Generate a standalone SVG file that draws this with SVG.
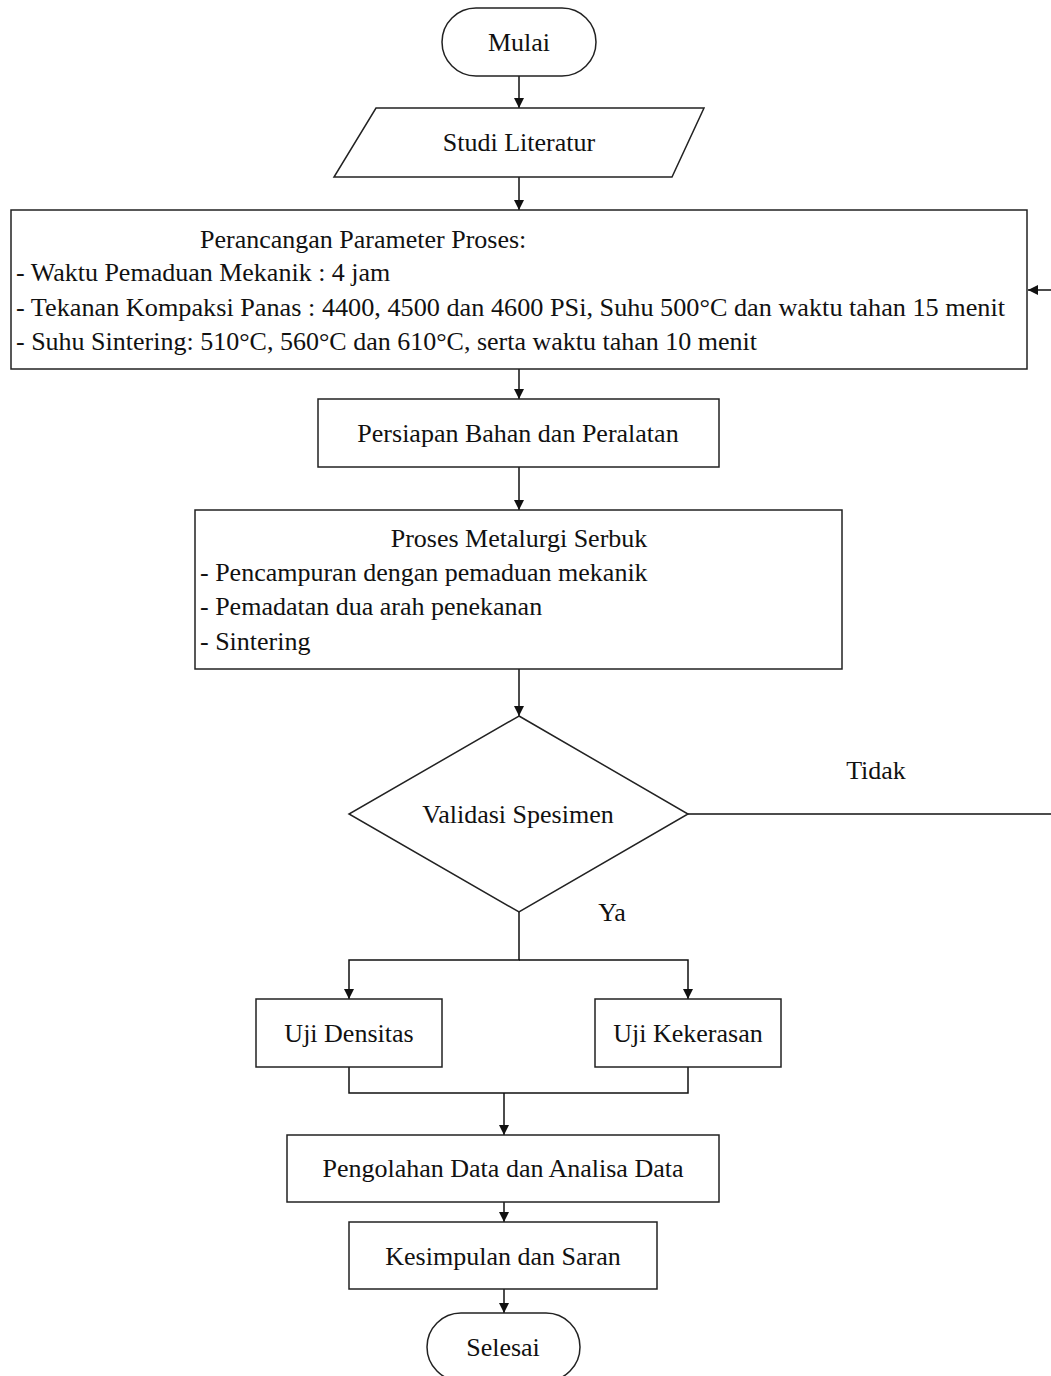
<svg xmlns="http://www.w3.org/2000/svg" width="1051" height="1376" viewBox="0 0 1051 1376">
<style>
.s{fill:#fff;stroke:#222;stroke-width:1.5}
.c{fill:none;stroke:#111;stroke-width:1.5}
text{font-family:"Liberation Serif","Times New Roman",serif;font-size:26px;fill:#111}
.m{text-anchor:middle;dominant-baseline:central}
.l{dominant-baseline:central}
</style>
<defs>
<marker id="a" viewBox="0 0 10 10" refX="10" refY="5" markerWidth="10" markerHeight="10" markerUnits="userSpaceOnUse" orient="auto">
<path d="M0,0 L10,5 L0,10 z" fill="#111"/>
</marker>
</defs>
<rect width="1051" height="1376" fill="#fff"/>
<g id="connectors">
<line class="c" x1="519" y1="76" x2="519" y2="108" marker-end="url(#a)"/>
<line class="c" x1="519" y1="177" x2="519" y2="210" marker-end="url(#a)"/>
<line class="c" x1="519" y1="369" x2="519" y2="399" marker-end="url(#a)"/>
<line class="c" x1="519" y1="467" x2="519" y2="510" marker-end="url(#a)"/>
<line class="c" x1="519" y1="669" x2="519" y2="716" marker-end="url(#a)"/>
<line class="c" x1="688" y1="814" x2="1051" y2="814"/>
<line class="c" x1="1051" y1="290" x2="1028" y2="290" marker-end="url(#a)"/>
<polyline class="c" points="519,912 519,960 349,960 349,999" marker-end="url(#a)"/>
<polyline class="c" points="519,960 688,960 688,999" marker-end="url(#a)"/>
<polyline class="c" points="349,1067 349,1093 688,1093 688,1067"/>
<line class="c" x1="504" y1="1093" x2="504" y2="1135" marker-end="url(#a)"/>
<line class="c" x1="504" y1="1202" x2="504" y2="1222" marker-end="url(#a)"/>
<line class="c" x1="504" y1="1289" x2="504" y2="1313" marker-end="url(#a)"/>
<text x="876" y="770" class="m">Tidak</text>
<text x="612" y="912" class="m">Ya</text>
</g>
<g id="mulai">
<rect class="s" x="442" y="8" width="154" height="68" rx="34"/>
<text x="519" y="42" class="m">Mulai</text>
</g>
<g id="studi">
<polygon class="s" points="376,108 704,108 672,177 334,177"/>
<text x="519" y="142" class="m">Studi Literatur</text>
</g>
<g id="perancangan">
<rect class="s" x="11" y="210" width="1016" height="159"/>
<text x="200" y="239" class="l">Perancangan Parameter Proses:</text>
<text x="16" y="272" class="l">- Waktu Pemaduan Mekanik : 4 jam</text>
<text x="16" y="307" class="l" textLength="989" lengthAdjust="spacingAndGlyphs">- Tekanan Kompaksi Panas : 4400, 4500 dan 4600 PSi, Suhu 500°C  dan waktu tahan 15 menit</text>
<text x="16" y="341" class="l">- Suhu Sintering: 510°C, 560°C dan 610°C, serta waktu tahan 10 menit</text>
</g>
<g id="persiapan">
<rect class="s" x="318" y="399" width="401" height="68"/>
<text x="518" y="433" class="m">Persiapan Bahan dan Peralatan</text>
</g>
<g id="proses">
<rect class="s" x="195" y="510" width="647" height="159"/>
<text x="519" y="538" class="m">Proses Metalurgi Serbuk</text>
<text x="200" y="572" class="l">- Pencampuran dengan pemaduan mekanik</text>
<text x="200" y="606" class="l">- Pemadatan dua arah penekanan</text>
<text x="200" y="641" class="l">- Sintering</text>
</g>
<g id="validasi">
<polygon class="s" points="519,716 688,814 519,912 349,814"/>
<text x="518" y="814" class="m">Validasi Spesimen</text>
</g>
<g id="densitas">
<rect class="s" x="256" y="999" width="186" height="68"/>
<text x="349" y="1033" class="m">Uji Densitas</text>
</g>
<g id="kekerasan">
<rect class="s" x="595" y="999" width="186" height="68"/>
<text x="688" y="1033" class="m">Uji Kekerasan</text>
</g>
<g id="pengolahan">
<rect class="s" x="287" y="1135" width="432" height="67"/>
<text x="503" y="1168" class="m">Pengolahan Data dan Analisa Data</text>
</g>
<g id="kesimpulan">
<rect class="s" x="349" y="1222" width="308" height="67"/>
<text x="503" y="1256" class="m">Kesimpulan dan Saran</text>
</g>
<g id="selesai">
<rect class="s" x="427" y="1313" width="153" height="68" rx="34"/>
<text x="503" y="1347" class="m">Selesai</text>
</g>
</svg>
